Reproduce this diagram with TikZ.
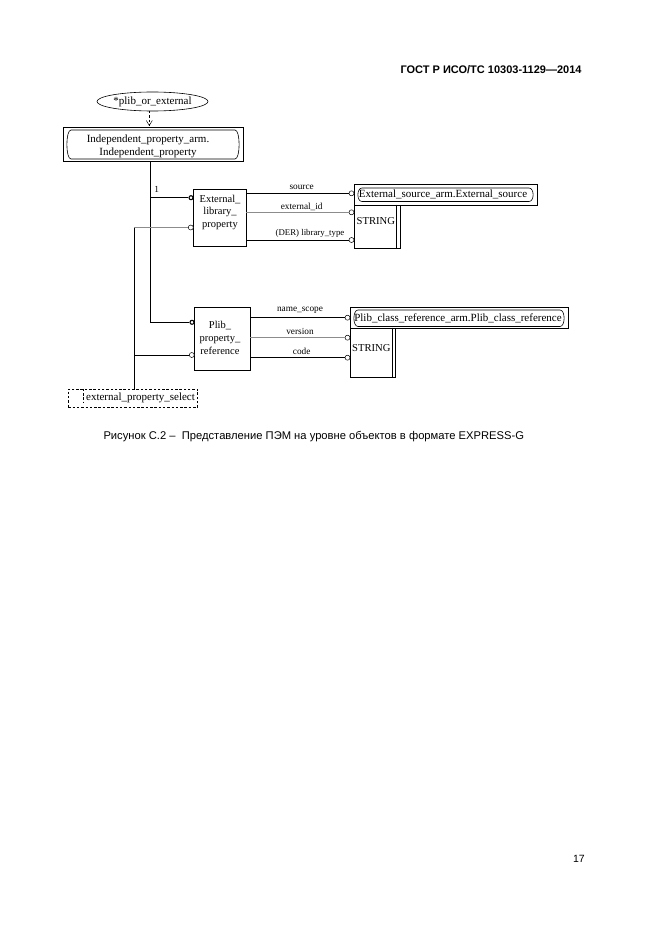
\documentclass[tikz,border=0pt]{standalone}
\usepackage{fontspec}
\setmainfont{Liberation Serif}
\newfontfamily\hdr{Liberation Sans}
\usetikzlibrary{shapes.geometric,calc}
\newcommand\dgfont{\fontsize{11}{12.7}\selectfont}
\newcommand\lbfont{\fontsize{9.3}{10}\selectfont}
\newcommand\pillshape[4]{\draw[line width=0.6pt] (#1+6,#2) -- (#3-6,#2) .. controls (#3-0.5,#2) and (#3-0.5,#4) .. (#3-6,#4) -- (#1+6,#4) .. controls (#1+0.5,#4) and (#1+0.5,#2) .. (#1+6,#2) -- cycle;}
\tikzset{
  ent/.style={draw, line width=0.6pt, inner sep=0pt},
  txt/.style={inner sep=0pt, font=\dgfont, align=center},
  lbl/.style={inner sep=0pt, font=\lbfont},
  rel/.style={line width=0.7pt},
  strongrel/.style={line width=1.1pt},
  grel/.style={line width=0.6pt, draw=black!45},
  tcirc/.style={circle, draw, line width=1.1pt, minimum size=4pt, inner sep=0pt, fill=white},
  ocirc/.style={circle, draw, line width=0.5pt, minimum size=5pt, inner sep=0pt, fill=white},
  dsh/.style={dash pattern=on 2.5pt off 1.8pt, line width=0.5pt}
}
\begin{document}
\begin{tikzpicture}[x=1pt,y=-1pt]
\useasboundingbox[fill=white] (0,0) rectangle (661,936);

% header, caption, page number
\node[inner sep=0pt, anchor=east, font=\hdr\bfseries\fontsize{11}{12}\selectfont] (hdrtext) at (581.7,69.3) {ГОСТ Р ИСО/ТС 10303-1129—2014};
\node[inner sep=0pt, anchor=west, font=\hdr\fontsize{11.2}{12}\selectfont] (cap) at (103.3,436.7) {Рисунок С.2 –\ \ Представление ПЭМ на уровне объектов в формате EXPRESS-G};
\node[inner sep=0pt, anchor=east, font=\hdr\fontsize{10.5}{12}\selectfont] (pgno) at (585,859) {17};

% select ellipse
\node[ent, ellipse, minimum width=111, minimum height=19, font=\dgfont] (sel) at (152.5,101.5) {*plib\_or\_external};

% Independent property box
\node[ent, minimum width=180, minimum height=33.5] (ind) at (153,144.25) {};
\pillshape{65}{130}{241}{159}
\node[txt] (indt) at (148,146.3) {Independent\_property\_arm.\\Independent\_property};

% dashed link ellipse -> box
\coordinate (d1) at (149.3,111);
\draw[dsh] (d1) -- (d1 |- ind.north);
\draw[line width=0.5pt] (146.3,120.5) -- (149.3,125.5) -- (152.3,120.5);

% External_library_property
\node[ent, minimum width=52.7, minimum height=57.4] (elp) at (219.7,218) {};
\node[txt, font=\fontsize{10.5}{12.5}\selectfont] (elpt) at (220,212.3) {External\_\\library\_\\property};

% External source box + STRING
\node[ent, minimum width=183, minimum height=20.7] (exs) at (445.5,194.65) {};
\pillshape{356}{188}{535}{201.5}
\node[txt] (exst) at (443,194.5) {External\_source\_arm.External\_source};
\node[ent, minimum width=46, minimum height=43.3] (str1) at (377,226.65) {};
\draw[line width=0.6pt] ($(str1.north east)+(-4,0)$) -- ($(str1.south east)+(-4,0)$);
\node[txt, font=\fontsize{10.6}{12}\selectfont] (str1t) at (375.8,221) {STRING};

% Plib_property_reference
\node[ent, minimum width=55.7, minimum height=62.7] (plp) at (222.1,338.6) {};
\node[txt, font=\fontsize{10.5}{13}\selectfont] (plpt) at (220,338) {Plib\_\\property\_\\reference};

% Plib class reference box + STRING
\node[ent, minimum width=218, minimum height=21] (plc) at (459,317.5) {};
\pillshape{352}{310}{566}{326.5}
\node[txt] (plct) at (458,318) {Plib\_class\_reference\_arm.Plib\_class\_reference};
\node[ent, minimum width=45, minimum height=49] (str2) at (372.5,352.5) {};
\draw[line width=0.6pt] ($(str2.north east)+(-3.5,0)$) -- ($(str2.south east)+(-3.5,0)$);
\node[txt, font=\fontsize{10.6}{12}\selectfont] (str2t) at (371.3,348) {STRING};

% external_property_select (dashed)
\node[draw, dsh, minimum width=129.2, minimum height=18.5, inner sep=0pt] (eps) at (132.9,398.25) {};
\draw[dsh] ($(eps.north west)+(14.7,0)$) -- ++(0,14);
\node[txt] (epst) at (140.5,398) {external\_property\_select};

% attribute circles (right side)
\node[ocirc] (cs1) at (351.5,193.3) {};
\node[ocirc] (cs2) at (351.5,212.3) {};
\node[ocirc] (cs3) at (351.5,240) {};
\node[ocirc] (cp1) at (347.5,317.7) {};
\node[ocirc] (cp2) at (347.5,337.7) {};
\node[ocirc] (cp3) at (347.5,357.7) {};

\draw[rel] (elp.east |- cs1) -- (cs1);
\draw[grel] (elp.east |- cs2) -- (cs2);
\draw[rel] (elp.east |- cs3) -- (cs3);
\draw[rel] (plp.east |- cp1) -- (cp1);
\draw[grel] (plp.east |- cp2) -- (cp2);
\draw[rel] (plp.east |- cp3) -- (cp3);

\node[lbl] (l1) at (301.7,187.3) {source};
\node[lbl] (l2) at (301.7,206.5) {external\_id};
\node[lbl, font=\fontsize{8.8}{10}\selectfont] (l3) at (310,233.5) {(DER) library\_type};
\node[lbl] (l4) at (300,310.5) {name\_scope};
\node[lbl] (l5) at (300,331.7) {version};
\node[lbl] (l6) at (301.7,351.7) {code};

% supertype links (left side)
\coordinate (j1) at (150.7,197.7);
\coordinate (j2) at (150.7,322.3);
\node[tcirc] (ct1) at (191,197.7) {};
\node[tcirc] (ct2) at (192,322.3) {};
\draw[strongrel] (ind.south -| j1) -- (j2) -- (ct2);
\draw[strongrel] (j1) -- (ct1);
\node[lbl] (one) at (156.7,189.3) {1};

% select links
\node[ocirc] (co1) at (190.8,227.5) {};
\node[ocirc] (co2) at (191.8,355) {};
\coordinate (k1) at (134,227.5);
\coordinate (k2) at (134,355);
\draw[grel] (k1) -- (co1);
\draw[rel] (k2) -- (co2);
\draw[rel] (k1) -- (k1 |- eps.north);
\end{tikzpicture}
\end{document}
